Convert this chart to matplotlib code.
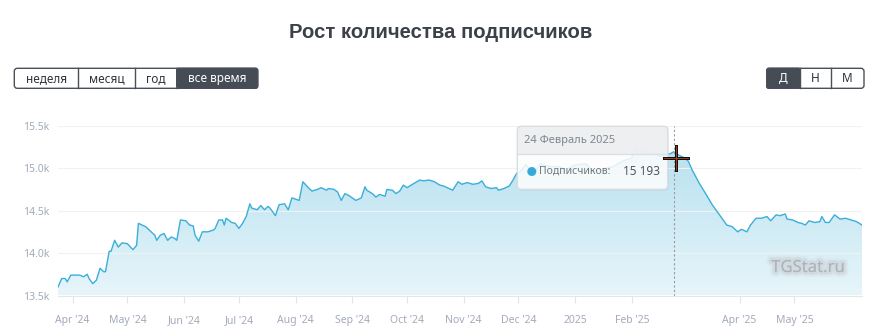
import numpy as np
import pandas as pd
import matplotlib
matplotlib.use('Agg')
import matplotlib.pyplot as plt
import matplotlib.dates as mdates
import matplotlib.patheffects as pe
from matplotlib.colors import LinearSegmentedColormap
from matplotlib.patches import FancyBboxPatch, Rectangle, Circle
from matplotlib.lines import Line2D

plt.rcParams['font.family'] = ['Noto Sans', 'DejaVu Sans']

# данные
dates = [
    '2024-03-24', '2024-03-26', '2024-03-28', '2024-03-29', '2024-03-31', '2024-04-05', '2024-04-07',
    '2024-04-09', '2024-04-10', '2024-04-12', '2024-04-14', '2024-04-16', '2024-04-18', '2024-04-19',
    '2024-04-21', '2024-04-22', '2024-04-24', '2024-04-26', '2024-04-28', '2024-05-01', '2024-05-04',
    '2024-05-06', '2024-05-07', '2024-05-09', '2024-05-11', '2024-05-13', '2024-05-16', '2024-05-17',
    '2024-05-19', '2024-05-21', '2024-05-23', '2024-05-25', '2024-05-27', '2024-05-28', '2024-05-30',
    '2024-06-02', '2024-06-04', '2024-06-06', '2024-06-07', '2024-06-09', '2024-06-11', '2024-06-14',
    '2024-06-17', '2024-06-18', '2024-06-20', '2024-06-22', '2024-06-23', '2024-06-24', '2024-06-27',
    '2024-06-29', '2024-07-01', '2024-07-03', '2024-07-05', '2024-07-07', '2024-07-08', '2024-07-11',
    '2024-07-13', '2024-07-15', '2024-07-17', '2024-07-18', '2024-07-21', '2024-07-23', '2024-07-26',
    '2024-07-28', '2024-07-30', '2024-08-03', '2024-08-05', '2024-08-08', '2024-08-10', '2024-08-13',
    '2024-08-15', '2024-08-18', '2024-08-19', '2024-08-22', '2024-08-24', '2024-08-26', '2024-08-28',
    '2024-08-30', '2024-09-01', '2024-09-03', '2024-09-06', '2024-09-08', '2024-09-09', '2024-09-12',
    '2024-09-14', '2024-09-16', '2024-09-19', '2024-09-20', '2024-09-23', '2024-09-25', '2024-09-27',
    '2024-09-29', '2024-10-01', '2024-10-04', '2024-10-08', '2024-10-10', '2024-10-13', '2024-10-16',
    '2024-10-19', '2024-10-21', '2024-10-24', '2024-10-26', '2024-10-29', '2024-10-31', '2024-11-03',
    '2024-11-06', '2024-11-09', '2024-11-11', '2024-11-13', '2024-11-16', '2024-11-19', '2024-11-20',
    '2024-11-23', '2024-11-26', '2024-11-28', '2024-11-30', '2024-12-02', '2024-12-05', '2024-12-09',
    '2024-12-13', '2024-12-18', '2024-12-23', '2024-12-27', '2025-01-01', '2025-01-07', '2025-01-11',
    '2025-01-14', '2025-01-22', '2025-01-25', '2025-01-29', '2025-02-01', '2025-02-03', '2025-02-06',
    '2025-02-11', '2025-02-14', '2025-02-16', '2025-02-22', '2025-02-24', '2025-02-27', '2025-03-02',
    '2025-03-04', '2025-03-06', '2025-03-10', '2025-03-14', '2025-03-17', '2025-03-21', '2025-03-25',
    '2025-03-28', '2025-03-31', '2025-04-02', '2025-04-05', '2025-04-07', '2025-04-10', '2025-04-13',
    '2025-04-16', '2025-04-18', '2025-04-21', '2025-04-23', '2025-04-26', '2025-04-27', '2025-04-30',
    '2025-05-03', '2025-05-05', '2025-05-07', '2025-05-09', '2025-05-12', '2025-05-15', '2025-05-16',
    '2025-05-18', '2025-05-20', '2025-05-23', '2025-05-26', '2025-05-29', '2025-06-01', '2025-06-04',
    '2025-06-07',
]
subs = [
    13600, 13700, 13700, 13660, 13740, 13740, 13720,
    13750, 13700, 13640, 13680, 13820, 13780, 13780,
    14020, 14020, 14150, 14070, 14120, 14110, 14040,
    14090, 14350, 14330, 14310, 14270, 14210, 14150,
    14210, 14230, 14150, 14190, 14170, 14150, 14390,
    14380, 14330, 14320, 14210, 14140, 14250, 14250,
    14270, 14290, 14390, 14390, 14330, 14410, 14360,
    14350, 14290, 14350, 14430, 14580, 14530, 14510,
    14560, 14510, 14550, 14530, 14440, 14570, 14580,
    14510, 14650, 14620, 14840, 14770, 14730, 14750,
    14770, 14740, 14760, 14750, 14720, 14620, 14700,
    14680, 14650, 14620, 14650, 14780, 14740, 14700,
    14660, 14690, 14670, 14750, 14740, 14700, 14730,
    14800, 14770, 14810, 14860, 14850, 14860, 14840,
    14800, 14790, 14760, 14740, 14840, 14810, 14830,
    14810, 14820, 14850, 14780, 14760, 14770, 14740,
    14760, 14790, 14860, 14940, 14960, 15040, 14930,
    15050, 15020, 15020, 14980, 15040, 15050, 14960,
    14980, 15020, 15060, 15100, 15120, 15250, 15210,
    15190, 15170, 15140, 15170, 15193, 15150, 15120,
    15080, 14980, 14820, 14680, 14570, 14450, 14330,
    14310, 14250, 14280, 14250, 14330, 14410, 14410,
    14430, 14380, 14450, 14440, 14460, 14400, 14390,
    14360, 14350, 14330, 14380, 14360, 14370, 14430,
    14360, 14360, 14450, 14400, 14410, 14390, 14370,
    14330,
]
tick_dates = ['2024-04-01', '2024-05-01', '2024-06-01', '2024-07-01', '2024-08-01', '2024-09-01',
              '2024-10-01', '2024-11-01', '2024-12-01', '2025-01-01', '2025-02-01', '2025-04-01',
              '2025-05-01']
tick_labels = ["Apr '24", "May '24", "Jun '24", "Jul '24", "Aug '24", "Sep '24", "Oct '24",
               "Nov '24", "Dec '24", "2025", "Feb '25", "Apr '25", "May '25"]
y_ticks = [13500, 14000, 14500, 15000, 15500]
hover_date = '2025-02-24'
hover_value = 15193

W, H = 872, 336
fig = plt.figure(figsize=(W / 100, H / 100), dpi=100)
fig.patch.set_facecolor('white')
tr = fig.dpi_scale_trans


def inch(x, y):
    # пиксели (от верхнего левого угла) -> дюймы фигуры
    return x / 100, (H - y) / 100


ax = fig.add_axes([58 / W, 1 - 295.5 / H, (862 - 58) / W, (295.5 - 125.7) / H])
dt = pd.to_datetime(dates)

ax.plot(dt, subs, color='#3aafd9', lw=1.0, zorder=3)

# градиентная заливка под линией
x0, x1 = mdates.date2num(dt[0]), mdates.date2num(dt[-1])
grad = np.linspace(0, 1, 256).reshape(-1, 1)
cmap = LinearSegmentedColormap.from_list('fill', ['#e6f5fa', '#b2deee'])
im = ax.imshow(grad, extent=[x0, x1, 13500, 15500], origin='lower', aspect='auto', cmap=cmap, zorder=1)
poly = ax.fill_between(dt, subs, 13500, facecolor='none', edgecolor='none')
im.set_clip_path(poly.get_paths()[0], transform=ax.transData)

ax.set_xlim(dt[0], dt[-1])
ax.set_ylim(13500, 15500)
ax.set_yticks(y_ticks)
ax.set_yticklabels([f'{v / 1000:.1f}k' for v in y_ticks])
ax.set_xticks(pd.to_datetime(tick_dates))
ax.set_xticklabels(tick_labels)
ax.grid(axis='y', color='#f1f1f1', lw=0.8, zorder=0)
for s in ['top', 'right', 'left']:
    ax.spines[s].set_visible(False)
ax.spines['bottom'].set_color('#e4e6ea')
ax.tick_params(axis='y', length=0, pad=6, labelsize=7.5, labelcolor='#a3abba')
ax.tick_params(axis='x', length=5, color='#e2e4e8', pad=9, labelsize=7.5, labelcolor='#a3abba')

# пунктир наведения
hd = pd.to_datetime(hover_date)
ax.plot([hd, hd], [13500, 15500], color='#9a9a9a', lw=0.8, ls=(0, (2, 2)), zorder=4)

# заголовок
fig.text(441 / W, 1 - 33 / H, 'Рост количества подписчиков', ha='center', va='center',
         fontsize=14.6, fontweight='bold', color='#3b4049',
         family=['Liberation Sans', 'DejaVu Sans'])


# кнопки
def button_group(x_edges, labels, active, y_top=68.3, y_bot=88.3):
    for i, lab in enumerate(labels):
        xa, xb = x_edges[i], x_edges[i + 1]
        if i == active:
            bx, by = inch(xa, y_bot)
            r = FancyBboxPatch((bx, by), (xb - xa) / 100, (y_bot - y_top) / 100,
                               boxstyle='round,pad=0,rounding_size=0.02',
                               transform=tr, facecolor='#454c56', edgecolor='#454c56', lw=1)
            fig.add_artist(r)
        if i > 0:
            fig.add_artist(Line2D([xa / 100, xa / 100], [(H - y_top) / 100, (H - y_bot) / 100],
                                  transform=tr, color='#4a505a', lw=1))
        tx, ty = inch((xa + xb) / 2, (y_top + y_bot) / 2)
        fig.text(tx, ty, lab, transform=tr, ha='center', va='center', fontsize=8.5,
                 color='white' if i == active else '#2f343b')
    bx, by = inch(x_edges[0], y_bot)
    frame = FancyBboxPatch((bx, by), (x_edges[-1] - x_edges[0]) / 100, (y_bot - y_top) / 100,
                           boxstyle='round,pad=0,rounding_size=0.03', transform=tr,
                           facecolor='none', edgecolor='#4a505a', lw=1)
    fig.add_artist(frame)


button_group([14.3, 78.3, 135.3, 176.7, 257.7], ['неделя', 'месяц', 'год', 'все время'], 3)
button_group([766.7, 800, 831, 864], ['Д', 'Н', 'М'], 0)

# размытая надпись
tx, ty = inch(808, 268)
fig.text(tx, ty, 'TGStat.ru', transform=tr, ha='center', va='center', fontsize=12,
         fontweight='bold', color='#a4a8ad', alpha=0.45,
         path_effects=[pe.withStroke(linewidth=7, foreground='#d3d6d9', alpha=0.25),
                       pe.withStroke(linewidth=4, foreground='#bfc3c7', alpha=0.35)])

# подсказка
tl, tt, tw, th = 517.3, 126.3, 150.5, 63
bx, by = inch(tl, tt + th)
shadow = FancyBboxPatch((bx + 0.01, by - 0.015), tw / 100, th / 100, boxstyle='round,pad=0,rounding_size=0.04',
                        transform=tr, facecolor='#000000', alpha=0.05, edgecolor='none', zorder=5)
fig.add_artist(shadow)
body = FancyBboxPatch((bx, by), tw / 100, th / 100, boxstyle='round,pad=0,rounding_size=0.04',
                      transform=tr, facecolor='white', alpha=0.85, edgecolor='none', zorder=6)
fig.add_artist(body)
hx, hy = inch(tl + 0.5, 154)
header = Rectangle((hx, hy), (tw - 1) / 100, (154 - tt - 0.5) / 100, transform=tr,
                   facecolor='#eceef0', alpha=0.92, edgecolor='none', zorder=6)
fig.add_artist(header)
fig.add_artist(Line2D([tl / 100, (tl + tw) / 100], [(H - 154) / 100] * 2, transform=tr,
                      color='#dcdfe3', lw=1, zorder=7))
border = FancyBboxPatch((bx, by), tw / 100, th / 100, boxstyle='round,pad=0,rounding_size=0.04',
                        transform=tr, facecolor='none', edgecolor='#d9dce0', lw=1, zorder=7)
fig.add_artist(border)
tx, ty = inch(524, 140)
fig.text(tx, ty, '24 Февраль 2025', transform=tr, ha='left', va='center', fontsize=8,
         color='#80878f', zorder=8)
cx, cy = inch(531.8, 171.5)
fig.add_artist(Circle((cx, cy), 0.045, transform=tr, facecolor='#35a9d8', edgecolor='none', zorder=8))
tx, ty = inch(539.5, 171.5)
fig.text(tx, ty, 'Подписчиков:', transform=tr, ha='left', va='center', fontsize=7.5,
         color='#6f767e', zorder=8)
tx, ty = inch(623, 171.5)
fig.text(tx, ty, f'{hover_value:,}'.replace(',', ' '), transform=tr, ha='left', va='center',
         fontsize=8.5, color='#50575f', zorder=8)

# курсор-перекрестие
px_, py_ = 676, 158
for c, w in (('#111111', 3.0), ('#9b3b1c', 1.0)):
    fig.add_artist(Line2D([(px_ - 12) / 100, (px_ + 12) / 100], [(H - py_) / 100] * 2,
                          transform=tr, color=c, lw=w * 0.72, zorder=9))
    fig.add_artist(Line2D([px_ / 100] * 2, [(H - py_ + 12) / 100, (H - py_ - 12) / 100],
                          transform=tr, color=c, lw=w * 0.72, zorder=9))

fig.savefig('out.png', dpi=100)
